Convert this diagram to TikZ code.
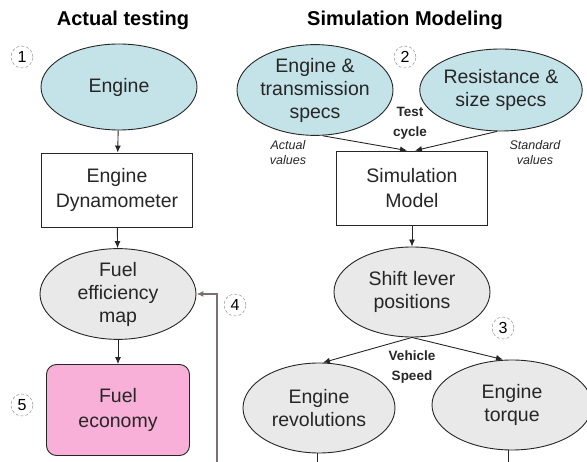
\documentclass[tikz,border=0pt]{standalone}
\usepackage{fontspec}
\setmainfont{Liberation Sans}
\usetikzlibrary{positioning}
\usetikzlibrary{shapes.geometric}
\usetikzlibrary{arrows.meta}

\definecolor{specblue}{HTML}{C4E3E9}
\definecolor{mapgray}{HTML}{E9E9E9}
\definecolor{fuelpink}{HTML}{F8B0D8}
\definecolor{inkgray}{HTML}{262626}
\definecolor{loopgray}{HTML}{7E7070}

\begin{document}
\begin{tikzpicture}[
        x = 1pt, y = -1pt,
        >={Latex[length=7pt, width=6pt]},
        oval/.style = {
                draw = inkgray,
                line width = 0.9pt,
                ellipse,
                fill = #1,
                minimum width = 156pt,
                minimum height = 86pt,
                inner sep = 0pt,
                align = center,
                text = inkgray,
                font = \fontsize{19.5}{23}\selectfont
            },
            oval/.default = mapgray,
        block/.style = {
                draw = inkgray,
                line width = 0.9pt,
                rectangle,
                minimum width = 151pt,
                minimum height = 74pt,
                align = center,
                text = inkgray,
                font = \fontsize{19.5}{25}\selectfont
            },
        stepno/.style = {
                draw = gray,
                densely dashed,
                circle,
                minimum size = 22pt,
                inner sep = 0pt,
                font = \fontsize{16}{16}\selectfont
            },
        heading/.style = {font = \bfseries\fontsize{20}{22}\selectfont},
        note/.style = {align = center, text = inkgray, font = \itshape\fontsize{12.5}{15}\selectfont},
        tag/.style = {align = center, text = inkgray, font = \bfseries\fontsize{13.5}{20}\selectfont},
        arrow/.style = {->, draw = inkgray, line width = 0.9pt}
    ]
        \useasboundingbox (0,0) rectangle (587,462);

        % left column
        \node[heading] (actual) at (123,20) {Actual testing};
        \node[oval=specblue] (engine) at (119,87) {Engine};
        \node[block] (dyno) at (117,190) {Engine\\Dynamometer};
        \node[oval, minimum height = 88pt] (map) at (118,294) {Fuel\\efficiency\\map};
        \node[block, rounded corners = 10pt, fill = fuelpink, minimum width = 143pt, minimum height = 91pt] (economy) at (118,410) {Fuel\\economy};

        % right column
        \node[heading] (simul) at (405,20) {Simulation Modeling};
        \node[oval=specblue] (trans) at (315,90) {Engine \&\\transmission\\specs};
        \node[oval=specblue, minimum height = 82pt] (resist) at (501,90) {Resistance \&\\size specs};
        \node[block] (model) at (412,188) {Simulation\\Model};
        \node[oval, minimum height = 90pt] (shift) at (412,292) {Shift lever\\positions};
        \node[oval, minimum width = 152pt, minimum height = 90pt] (revs) at (319,408) {Engine\\revolutions};
        \node[oval, minimum width = 160pt, minimum height = 90pt] (torque) at (512,405) {Engine\\torque};

        % small labels
        \node[tag] (cycle) at (410,123) {Test\\cycle};
        \node[note] (actualval) at (288,153) {Actual\\values};
        \node[note] (stdval) at (535,153) {Standard\\values};
        \node[tag] (speed) at (412,367) {Vehicle\\Speed};

        % step numbers
        \node[stepno] (one) at (22,57) {1};
        \node[stepno] (two) at (405,57) {2};
        \node[stepno] (three) at (503,328) {3};
        \node[stepno] (four) at (235,305) {4};
        \node[stepno] (five) at (22,405) {5};

        \coordinate (loopend) at (217,462);
        \coordinate (revsend) at (317,462);
        \coordinate (torqueend) at (508,462);

        \draw[arrow] (engine) -- (dyno);
        \draw[arrow] (dyno) -- (map);
        \draw[arrow] (map) -- (economy);

        \draw[arrow] ([xshift=8pt]trans.south) -- ([xshift=-5pt]model.north);
        \draw[arrow] ([xshift=-4pt]resist.south) -- ([xshift=3pt]model.north);
        \draw[arrow] (model) -- (shift);
        \draw[arrow] (shift.south) -- ([xshift=4pt]revs.north);
        \draw[arrow] (shift.south) -- ([xshift=-9pt]torque.north);

        \draw[line width = 0.9pt, inkgray] (revs.south -| revsend) -- (revsend);
        \draw[line width = 0.9pt, inkgray] (torque.south -| torqueend) -- (torqueend);
        \draw[arrow, draw = loopgray, line width = 1.2pt] (loopend) |- (map.east);

    \end{tikzpicture}
\end{document}
